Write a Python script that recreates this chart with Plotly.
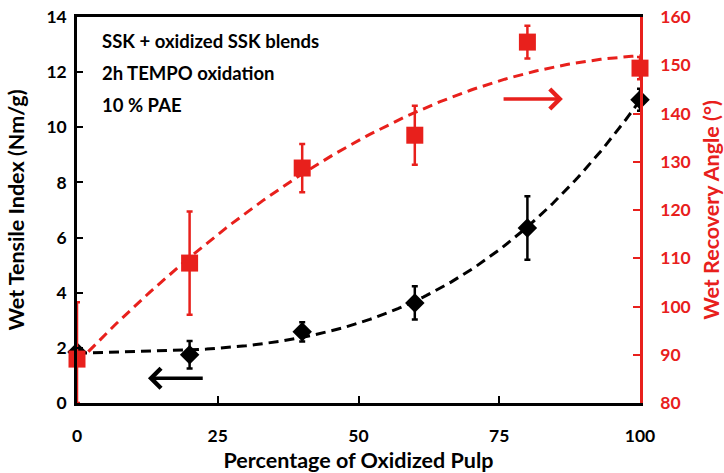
import numpy as np
import plotly.graph_objects as go

# Oxidized pulp fraction in the blend (%)
oxidized_pct = [0, 20, 40, 60, 80, 100]

# Wet tensile index (Nm/g) with standard deviations
wet_tensile = [1.85, 1.75, 2.58, 3.63, 6.35, 11.0]
wet_tensile_sd = [0.15, 0.5, 0.35, 0.6, 1.15, 0.4]

# Wet recovery angle (degrees) with standard deviations
recovery_angle = [89.1, 109.0, 128.7, 135.5, 154.8, 149.4]
recovery_angle_sd = [11.8, 10.7, 5.0, 6.1, 3.4, 2.3]

x_ticks = [0, 25, 50, 75, 100]
left_ticks = [0, 2, 4, 6, 8, 10, 12, 14]
right_ticks = [80, 90, 100, 110, 120, 130, 140, 150, 160]
right_min = 80

RED = "#e8201c"
BLACK = "#000000"
FONT = "Lato"

x = np.array(oxidized_pct, dtype=float)
ten = np.array(wet_tensile)
ang = np.array(recovery_angle)
ang_sd = np.array(recovery_angle_sd)

# Polynomial trendlines
xs = np.linspace(0, 100, 201)
ten_fit = np.polyval(np.polyfit(x, ten, 3), xs)
ang_fit = np.polyval(np.polyfit(x, ang, 2), xs)

fig = go.Figure()

fig.add_trace(go.Scatter(
    x=xs, y=ten_fit, mode="lines",
    line=dict(color=BLACK, width=3, dash="10px,6px"),
    hoverinfo="skip", showlegend=False, cliponaxis=False,
))
fig.add_trace(go.Scatter(
    x=xs, y=ang_fit, mode="lines", yaxis="y2",
    line=dict(color=RED, width=3, dash="10px,6px"),
    hoverinfo="skip", showlegend=False, cliponaxis=False,
))

fig.add_trace(go.Scatter(
    x=x, y=ten, mode="markers", name="Wet Tensile Index",
    marker=dict(symbol="diamond", size=15, color=BLACK),
    error_y=dict(type="data", array=wet_tensile_sd, color=BLACK, thickness=2.5, width=3),
    showlegend=False, cliponaxis=False,
))
fig.add_trace(go.Scatter(
    x=x, y=ang, mode="markers", name="Wet Recovery Angle", yaxis="y2",
    marker=dict(symbol="square", size=17, color=RED),
    error_y=dict(type="data", array=ang_sd,
                 arrayminus=np.minimum(ang_sd, ang - right_min),
                 color=RED, thickness=2.5, width=3),
    showlegend=False, cliponaxis=False,
))

label_font = dict(family=FONT, size=18.5, color=BLACK, weight="bold")
notes = ["SSK + oxidized SSK blends", "2h TEMPO oxidation", "10 % PAE"]
note_y = [0.937, 0.855, 0.773]
annotations = [
    dict(text=t, x=0.04, y=yy, xref="paper", yref="paper", xanchor="left",
         yanchor="middle", showarrow=False, font=label_font)
    for t, yy in zip(notes, note_y)
]

# Arrows pointing each series to its axis
annotations.append(dict(
    x=12.6, y=0.9, ax=22.6, ay=0.9, xref="x", yref="y", axref="x", ayref="y",
    text="", showarrow=True, arrowhead=4, arrowsize=1.1, arrowwidth=3.5,
    arrowcolor=BLACK,
))
annotations.append(dict(
    x=86.3, y=143.0, ax=75.5, ay=143.0, xref="x", yref="y2", axref="x", ayref="y2",
    text="", showarrow=True, arrowhead=4, arrowsize=1.1, arrowwidth=3.5,
    arrowcolor=RED,
))

tick_font = dict(family=FONT, size=17.5, color=BLACK, weight="bold")
title_font = dict(family=FONT, size=21.5, color=BLACK, weight="bold")

fig.update_layout(
    width=724, height=473,
    margin=dict(l=77, r=84, t=17, b=70),
    paper_bgcolor="white", plot_bgcolor="white",
    annotations=annotations,
    xaxis=dict(
        range=[0, 100], tickvals=x_ticks, ticks="inside", ticklen=7,
        tickwidth=2, tickcolor=BLACK, showline=True, linecolor=BLACK,
        linewidth=2.5, mirror=True, showgrid=False, zeroline=False,
        tickfont=tick_font, ticklabelstandoff=15, automargin=False,
        title=dict(text="Percentage of Oxidized Pulp", font=title_font, standoff=10),
    ),
    yaxis=dict(
        range=[0, 14], tickvals=left_ticks, ticks="inside", ticklen=6,
        tickwidth=2, tickcolor=BLACK, showline=True, linecolor=BLACK,
        linewidth=2.5, showgrid=False, zeroline=False, tickfont=tick_font,
        ticklabelstandoff=4, automargin=False,
        title=dict(text="Wet Tensile Index (Nm/g)", font=title_font, standoff=16),
    ),
    yaxis2=dict(
        range=[80, 160], tickvals=right_ticks, overlaying="y", side="right",
        ticks="inside", ticklen=7, tickwidth=2, tickcolor=RED,
        showline=True, linecolor=RED, linewidth=2.5, showgrid=False,
        zeroline=False, ticklabelstandoff=14, automargin=False,
        tickfont=dict(family=FONT, size=17.5, color=RED, weight="bold"),
        title=dict(text="Wet Recovery Angle (°)",
                   font=dict(family=FONT, size=21.5, color=RED, weight="bold"),
                   standoff=16),
    ),
)

fig.write_html("out.html")
